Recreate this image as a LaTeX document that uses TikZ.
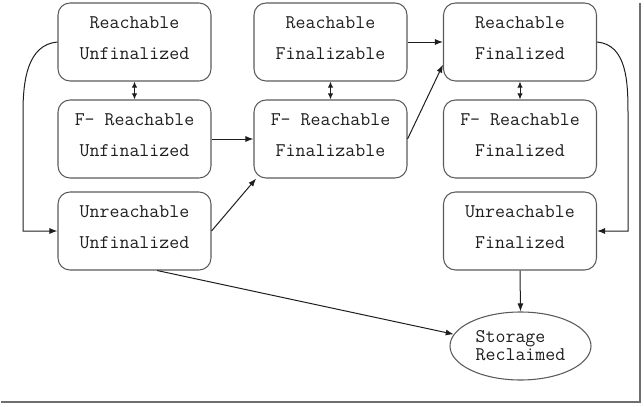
\documentclass[tikz,border=0pt]{standalone}
\usetikzlibrary{arrows.meta,shapes.geometric}
\definecolor{gcLine}{HTML}{5A5A5A}
\definecolor{gcInk}{HTML}{1E1E1E}
\definecolor{gcShadow}{HTML}{6E6E6E}
\tikzset{
  gc box/.style={draw=gcLine, line width=0.8pt, rounded corners=9pt, minimum width=114.75pt, minimum height=58.5pt, inner sep=0pt, text depth=6pt, align=center, text=gcInk, font=\ttfamily\fontsize{14.5}{23}\selectfont},
  gc oval/.style={ellipse, draw=gcLine, line width=0.8pt, minimum width=105.75pt, minimum height=51pt, inner sep=0pt, align=left, text=gcInk, font=\ttfamily\fontsize{14.5}{13.5}\selectfont},
  gc arrow/.style={draw=gcInk, line width=0.75pt, -{Latex[length=6pt,width=4.5pt]}},
  gc both/.style={draw=gcInk, line width=0.75pt, {Latex[length=4.5pt,width=4pt]}-{Latex[length=4.5pt,width=4pt]}},
  gc frame/.style={draw=gcShadow, line width=2.2pt},
}
\begin{document}
\begin{tikzpicture}[x=0.75pt, y=-0.75pt]
  \useasboundingbox (0,0) rectangle (644,407);
  \draw[gc frame] (1,402) -- (640,402) -- (640,3);

  % left column
  \node[gc box] (ru)  at (134.5,42)  {Reachable\\Unfinalized};
  \node[gc box] (fru) at (134.5,139) {F- Reachable\\Unfinalized};
  \node[gc box] (uu)  at (134.5,231) {Unreachable\\Unfinalized};

  % middle column
  \node[gc box] (rfz)  at (330.5,42)  {Reachable\\Finalizable};
  \node[gc box] (frfz) at (330.5,139) {F- Reachable\\Finalizable};

  % right column
  \node[gc box] (rfd)  at (520,42)  {Reachable\\Finalized};
  \node[gc box] (frfd) at (520,139) {F- Reachable\\Finalized};
  \node[gc box] (ufd)  at (520,231) {Unreachable\\Finalized};

  \node[gc oval] (sr) at (520.5,346) {Storage\\Reclaimed};

  % reachability links
  \draw[gc both] (ru) -- (fru);
  \draw[gc both] (rfz) -- (frfz);
  \draw[gc both] (rfd) -- (frfd);

  % transitions
  \draw[gc arrow] (fru.east) -- (frfz.west);
  \draw[gc arrow] (uu.east) -- ([xshift=2pt]frfz.south west);
  \draw[gc arrow] (rfz.east) -- (rfd.west);
  \draw[gc arrow] (frfz.east) -- ([yshift=-17pt]rfd.west);
  \draw[gc arrow] (ru.west) to[out=185, in=90] (23,112) |- (uu.west);
  \draw[gc arrow] (rfd.east) to[out=-5, in=90] (628,112) |- (ufd.east);
  \draw[gc arrow] (ufd.south) -- (sr.north);
  \draw[gc arrow] ([xshift=17pt]uu.south) -- (sr.170);
\end{tikzpicture}
\end{document}
